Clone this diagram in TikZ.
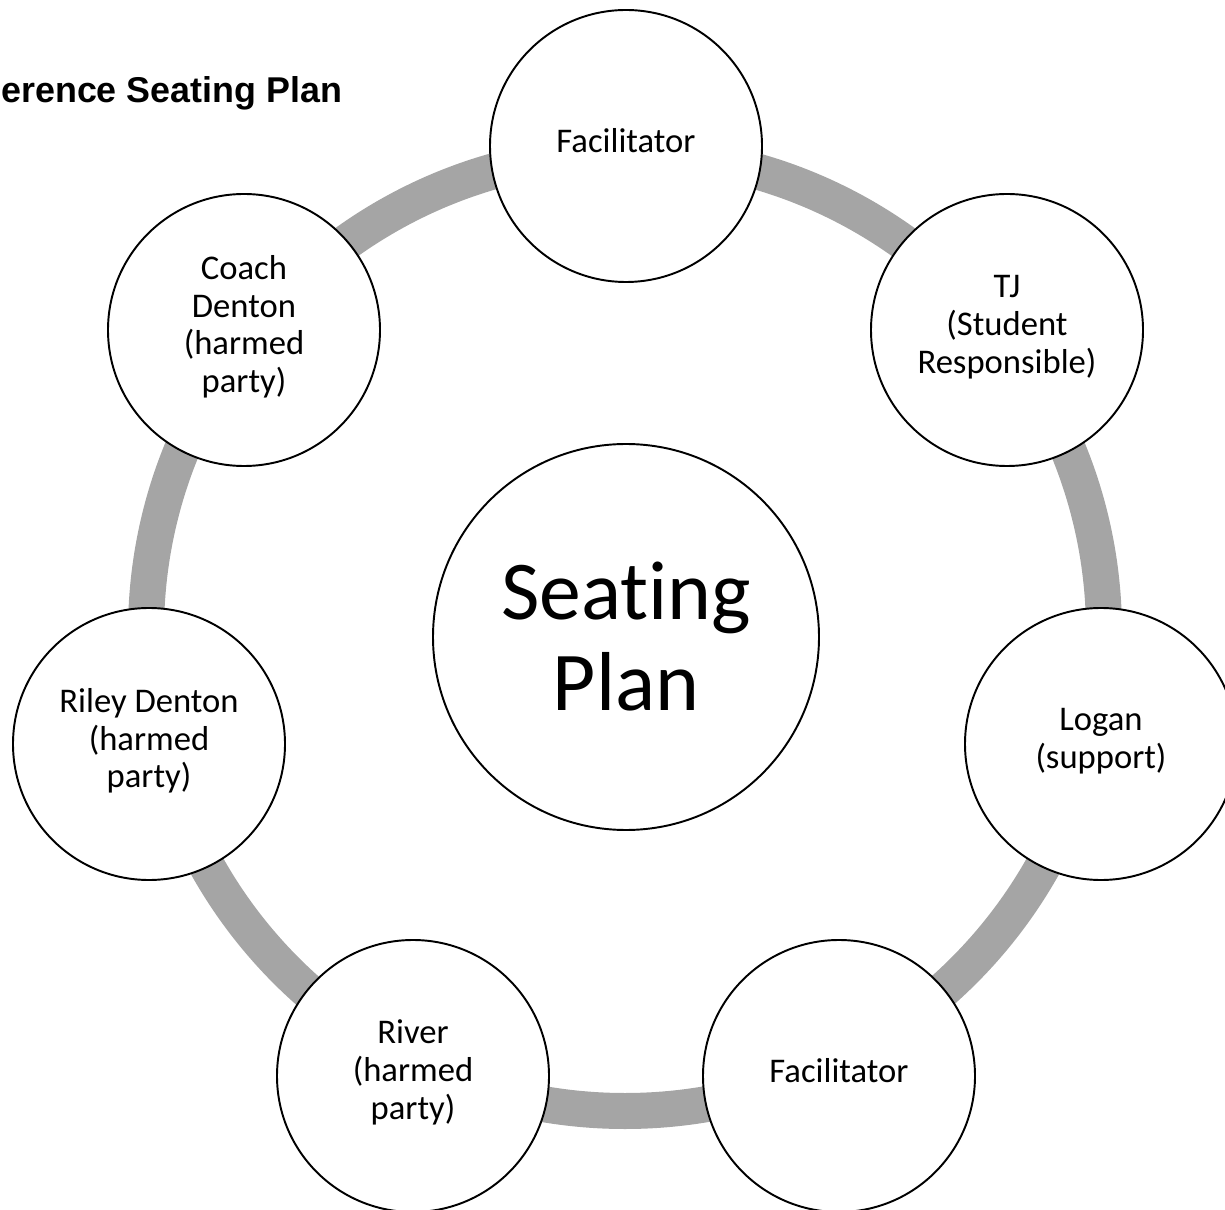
\documentclass[tikz,border=0pt]{standalone}
\usepackage{fontspec}
\setmainfont{Carlito}[Ligatures=NoCommon]
\newfontfamily\titlefont{Liberation Sans}
\definecolor{ringgray}{RGB}{165,165,165}
\begin{document}
\begin{tikzpicture}[
  seat/.style={circle,draw,line width=1.1pt,fill=white,minimum size=5.44cm,inner sep=0pt,align=center,text depth=0.24cm,font=\fontsize{19.7}{21.6}\selectfont},
  plan/.style={circle,draw,line width=1.1pt,fill=white,minimum size=7.72cm,inner sep=0pt,align=center,font=\fontsize{47.6}{51.8}\selectfont},
  ring/.style={draw=ringgray,line width=0.72cm},
  heading/.style={anchor=base west,inner sep=0pt,font=\titlefont\bfseries\fontsize{20.4}{25}\selectfont}
  ]

\useasboundingbox (0,0) rectangle (24.5,-24.2);

% the table ring
\coordinate (ringc) at (12.5,-12.64);
\draw[ring] (ringc) circle[radius=9.58cm];

\node[heading] (title) at (0.02,-2.06) {erence Seating Plan};

\node[plan] (centre) at (12.52,-12.74) {Seating\\Plan};

\node[seat] (fac1) at (12.52,-2.92) {Facilitator};
\node[seat] (tj) at (20.14,-6.6) {TJ\\(Student\\Responsible)};
\node[seat] (logan) at (22.02,-14.88) {Logan\\(support)};
\node[seat] (fac2) at (16.78,-21.52) {Facilitator};
\node[seat] (river) at (8.26,-21.52) {River\\(harmed\\party)};
\node[seat] (riley) at (2.98,-14.88) {Riley Denton\\(harmed\\party)};
\node[seat] (coach) at (4.88,-6.6) {Coach\\Denton\\(harmed\\party)};

\end{tikzpicture}
\end{document}
